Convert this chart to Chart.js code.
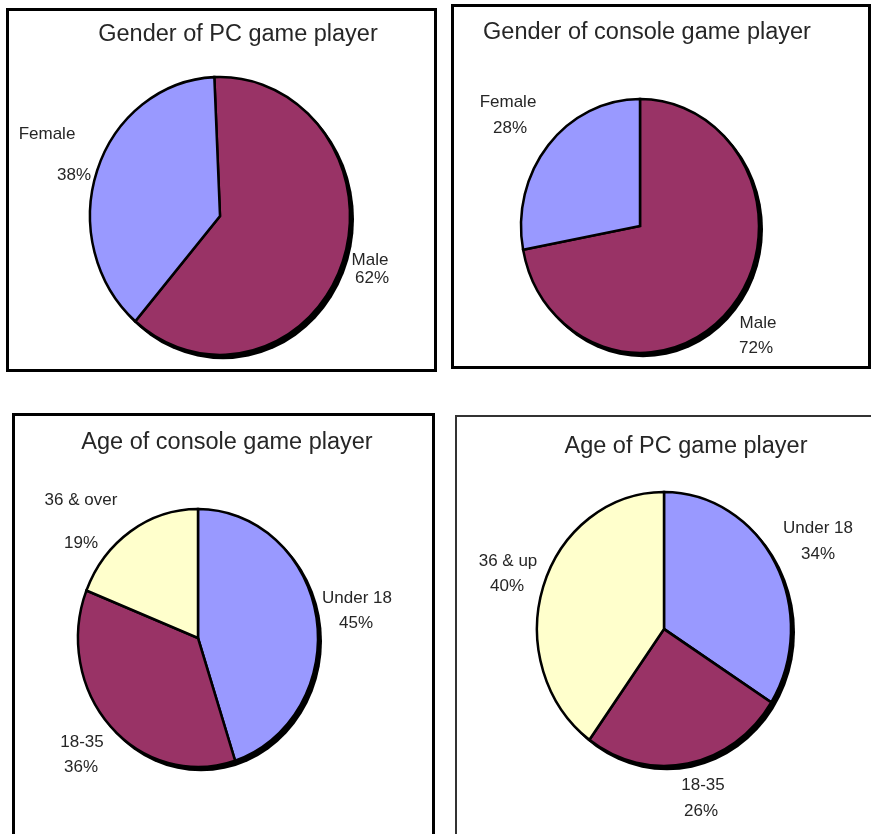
<!DOCTYPE html>
<html><head><meta charset="utf-8">
<script src="https://cdn.jsdelivr.net/npm/chart.js@4/dist/chart.umd.min.js"></script>
<style>
html,body{margin:0;padding:0;background:#fff;width:871px;height:834px;overflow:hidden;position:relative}
.panel{position:absolute;box-sizing:border-box;border:3px solid #000;}
canvas{position:absolute;left:0;top:0}
</style></head><body>
<div class="panel" style="left:6px;top:8px;width:431px;height:364px"></div>
<div class="panel" style="left:451px;top:4px;width:420px;height:365px"></div>
<div class="panel" style="left:12px;top:413px;width:423px;height:440px"></div>
<div class="panel" style="left:455px;top:415px;width:440px;height:440px;border-width:2px;border-color:#333"></div>
<canvas id="c1" width="871" height="834"></canvas>
<canvas id="c2" width="871" height="834"></canvas>
<canvas id="c3" width="871" height="834"></canvas>
<canvas id="c4" width="871" height="834"></canvas>
<script>
// ---- data ----
const pcGenderTitle = 'Gender of PC game player';
const pcGenderLabels = ['Male', 'Female'];
const pcGenderValues = [62, 38];

const consoleGenderTitle = 'Gender of console game player';
const consoleGenderLabels = ['Male', 'Female'];
const consoleGenderValues = [72, 28];

const consoleAgeTitle = 'Age of console game player';
const consoleAgeLabels = ['Under 18', '18-35', '36 & over'];
const consoleAgeValues = [45, 36, 19];

const pcAgeTitle = 'Age of PC game player';
const pcAgeLabels = ['Under 18', '18-35', '36 & up'];
const pcAgeValues = [34, 26, 40];

// ---- styles / layout ----
const BLUE = '#9999FF', MAROON = '#993366', YELLOW = '#FFFFCC';
const FONT = '"Liberation Sans", Arial, sans-serif';
const W = 871, H = 834;

const panels = [
  { id: 'c1', title: pcGenderTitle, labels: pcGenderLabels, values: pcGenderValues,
    colors: [MAROON, BLUE], cx: 220, cy: 216, rx: 130, ry: 139, rotation: -2.5,
    titleX: 238, titleY: 35,
    lab: [[150, 44, 152, 62], [-173, -82, -146, -41]] },
  { id: 'c2', title: consoleGenderTitle, labels: consoleGenderLabels, values: consoleGenderValues,
    colors: [MAROON, BLUE], cx: 640, cy: 226, rx: 119, ry: 127, rotation: 0,
    titleX: 647, titleY: 33,
    lab: [[118, 97, 116, 122], [-132, -124, -130, -98]] },
  { id: 'c3', title: consoleAgeTitle, labels: consoleAgeLabels, values: consoleAgeValues,
    colors: [BLUE, MAROON, YELLOW], cx: 198, cy: 638, rx: 120, ry: 129, rotation: 0,
    titleX: 227, titleY: 443,
    lab: [[159, -40, 158, -15], [-116, 104, -117, 129], [-117, -138, -117, -95]] },
  { id: 'c4', title: pcAgeTitle, labels: pcAgeLabels, values: pcAgeValues,
    colors: [BLUE, MAROON, YELLOW], cx: 664, cy: 629, rx: 127, ry: 137, rotation: 0,
    titleX: 686, titleY: 447,
    lab: [[154, -101, 154, -75], [39, 156, 37, 182], [-156, -68, -157, -43]] }
];

const piePlugin = {
  id: 'piePlugin',
  beforeDatasetsDraw(chart) {
    const p = chart.config.options.plugins.piePlugin;
    const arc = chart.getDatasetMeta(0).data[0];
    const ctx = chart.ctx;
    const ky = p.ry / p.rx;
    ctx.save();
    ctx.translate(arc.x, arc.y);
    ctx.scale(1, ky);
    ctx.translate(-arc.x, -arc.y);
    // drop shadow
    ctx.beginPath();
    ctx.arc(arc.x + 3, arc.y + 3, arc.outerRadius + 1, 0, Math.PI * 2);
    ctx.fillStyle = '#000';
    ctx.fill();
  },
  afterDatasetsDraw(chart) {
    const p = chart.config.options.plugins.piePlugin;
    const ctx = chart.ctx;
    ctx.restore();
    const meta = chart.getDatasetMeta(0);
    const arc = meta.data[0];
    ctx.save();
    ctx.fillStyle = '#262626';
    ctx.textAlign = 'center';
    ctx.textBaseline = 'middle';
    ctx.font = '23.5px ' + FONT;
    ctx.fillText(p.title, p.titleX, p.titleY);
    ctx.font = '17px ' + FONT;
    const lbls = chart.data.labels;
    const vals = chart.data.datasets[0].data;
    lbls.forEach((l, i) => {
      const o = p.lab[i];
      ctx.fillText(l, arc.x + o[0], arc.y + o[1]);
      ctx.fillText(vals[i] + '%', arc.x + o[2], arc.y + o[3]);
    });
    ctx.restore();
  }
};

panels.forEach(p => {
  const R0 = p.rx + 4;
  new Chart(document.getElementById(p.id), {
    type: 'pie',
    data: {
      labels: p.labels,
      datasets: [{
        data: p.values,
        backgroundColor: p.colors,
        borderColor: '#000',
        borderWidth: 2.5,
        borderJoinStyle: 'miter'
      }]
    },
    options: {
      responsive: false,
      animation: false,
      events: [],
      radius: p.rx,
      rotation: p.rotation,
      layout: { padding: { left: p.cx - R0, right: W - p.cx - R0, top: p.cy - R0, bottom: H - p.cy - R0 } },
      plugins: {
        legend: { display: false },
        tooltip: { enabled: false },
        title: { display: false },
        piePlugin: { title: p.title, rx: p.rx, ry: p.ry, titleX: p.titleX, titleY: p.titleY, lab: p.lab }
      }
    },
    plugins: [piePlugin]
  });
});
</script>
</body></html>
